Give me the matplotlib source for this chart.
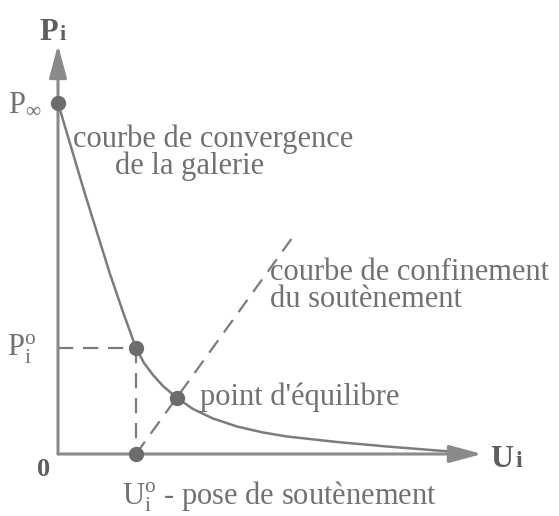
import matplotlib
matplotlib.use("Agg")
import matplotlib.pyplot as plt

plt.rcParams['font.family'] = ['Liberation Serif', 'DejaVu Serif']
plt.rcParams['mathtext.fontset'] = 'custom'
plt.rcParams['mathtext.rm'] = 'Liberation Serif'
plt.rcParams['mathtext.it'] = 'Liberation Serif:italic'
plt.rcParams['mathtext.bf'] = 'Liberation Serif:bold'
plt.rcParams['lines.scale_dashes'] = False

# courbe de convergence de la galerie (U_i, P_i)
conv_u = [0.0, 0.27, 0.52, 0.65, 0.78, 0.86, 0.95, 1.05, 1.19, 1.35, 1.55, 1.79,
          2.05, 2.29, 2.79, 3.29, 3.79, 4.0]
conv_p = [3.51, 2.60, 1.80, 1.42, 1.06, 0.91, 0.79, 0.68, 0.56, 0.45, 0.355, 0.275,
          0.215, 0.175, 0.12, 0.075, 0.035, 0.02]

# courbe de confinement du soutenement (droite)
conf_u = [0.78, 2.37]
conf_p = [0.0, 2.20]

p_inf = (0.0, 3.51)
p_io = (0.78, 1.06)
u_io = (0.78, 0.0)
p_eq = (1.19, 0.56)

u_max = 4.24
p_max = 4.09

axis_col = '#8a8a8a'
line_col = '#7c7c7c'
pt_col = '#6c6c6c'
txt_col = '#717171'
lab_col = '#5e5e5e'

fig = plt.figure(figsize=(5.59, 5.16), dpi=100)
ax = fig.add_axes([0, 0, 1, 1])
ax.set_xlim(-0.58, 5.01)
ax.set_ylim(-0.62, 4.54)
ax.axis('off')

# axes avec fleches
arrow = dict(arrowstyle='-|>,head_length=1.0,head_width=0.27', mutation_scale=20,
             lw=2.2, color=axis_col, shrinkA=0, shrinkB=0)
ax.annotate('', xy=(u_max, 0), xytext=(0, 0), arrowprops=arrow)
ax.annotate('', xy=(0, p_max), xytext=(0, 0), arrowprops=arrow)

# pointilles
dash = (0, (11, 7))
ax.plot([0, p_io[0]], [p_io[1], p_io[1]], color=line_col, lw=1.6, linestyle=dash)
ax.plot([p_io[0], u_io[0]], [p_io[1], u_io[1]], color=line_col, lw=1.6, linestyle=dash)
ax.plot(conf_u, conf_p, color=line_col, lw=1.6, linestyle=dash)

ax.plot(conv_u, conv_p, color=line_col, lw=1.8, solid_capstyle='round',
        solid_joinstyle='round')

for pt in [p_inf, p_io, u_io, p_eq]:
    ax.plot(pt[0], pt[1], 'o', ms=10, color=pt_col, zorder=5)

fs = 22
ax.text(0.15, 3.07, 'courbe de convergence', fontsize=fs, color=txt_col)
ax.text(0.57, 2.80, 'de la galerie', fontsize=fs, color=txt_col)
ax.text(2.12, 1.74, 'courbe de confinement', fontsize=fs, color=txt_col)
ax.text(2.12, 1.47, 'du soutènement', fontsize=fs, color=txt_col)
ax.text(1.42, 0.49, "point d'équilibre", fontsize=fs, color=txt_col)
ax.text(0.64, -0.51, r'U$_{\rm i}^{\rm o}$ - pose de soutènement', fontsize=fs, color=txt_col)
ax.text(-0.16, 3.43, r'P$_{\infty}$', fontsize=fs, color=txt_col, ha='right')
ax.text(-0.22, 0.97, r'P$_{\rm i}^{\rm o}$', fontsize=fs, color=txt_col, ha='right')

# libelles des axes
ax.text(0.005, 4.14, 'P', fontsize=22, fontweight='bold', color=lab_col, ha='right')
ax.text(0.02, 4.14, 'i', fontsize=16, fontweight='bold', color=lab_col)
ax.text(4.32, -0.13, 'U', fontsize=23, fontweight='bold', color=lab_col)
ax.text(4.57, -0.13, 'i', fontsize=17, fontweight='bold', color=lab_col)
ax.text(-0.14, -0.15, '0', fontsize=19, fontweight='bold', color=lab_col, ha='center', va='center')

fig.savefig('out.png', dpi=100)
